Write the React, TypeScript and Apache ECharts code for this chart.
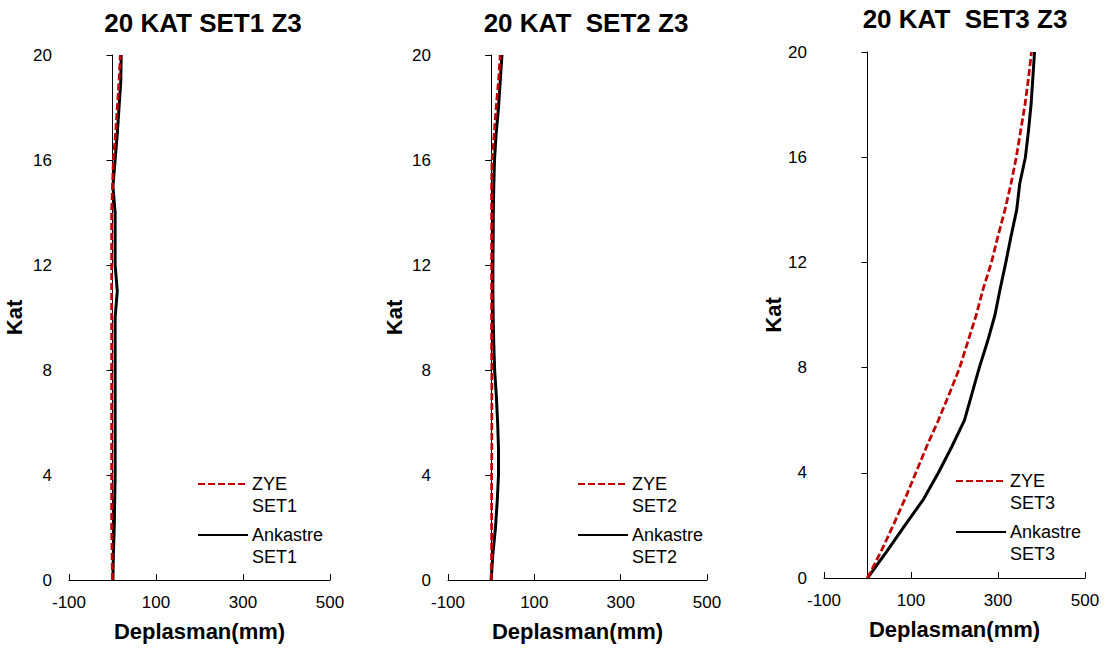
import React, { useEffect, useRef } from "react";
import * as echarts from "echarts";

// Floor numbers (Kat)
const floors = [0, 1, 2, 3, 4, 5, 6, 7, 8, 9, 10, 11, 12, 13, 14, 15, 16, 17, 18, 19, 20];

// Displacements (mm) per floor
const zyeSet1 = [0, -1, -2, -2, -2, -2, -2, -2, -2, -2, -2, -2, -2, -2, -2, 0, 2, 7, 11, 15, 18];
const ankSet1 = [1, 2, 4, 5, 6, 6, 6, 6, 6, 6, 6, 11, 6, 6, 6, 1, 6, 11, 15, 19, 20];

const zyeSet2 = [0, 1, 1, 1, 1, 1.5, 1.5, 1.5, 1.5, 1, 1, 1, 1, 1, 1, 1, 2, 7, 11.5, 17, 21];
const ankSet2 = [0, 4, 10, 14, 17, 17, 15, 12, 8, 6, 4.6, 4, 4, 4.6, 5, 6, 7.7, 11.5, 17, 21, 25];

const zyeSet3 = [0, 31, 59, 86, 111, 136, 163, 188, 212, 231, 250, 266, 285, 300, 316, 330, 342, 352, 362, 370, 377];
const ankSet3 = [0, 44, 86, 129, 163, 194, 223, 240, 257, 276, 293, 305, 318, 330, 343, 350, 363, 370, 376, 380, 384];

const titles = ["20 KAT SET1 Z3", "20 KAT  SET2 Z3", "20 KAT  SET3 Z3"];
const setNames = ["SET1", "SET2", "SET3"];
const xTitle = "Deplasman(mm)";
const yTitle = "Kat";

const FONT = "'Liberation Sans', Arial, sans-serif";
const RED = "#C00000";

// layout (pixels)
const layout = [
  { left: 69, top: 55, width: 261, height: 525, titleX: 203, titleY: 23, legX: 197, leg1: 484, leg2: 535, nameGap: 44 },
  { left: 448, top: 55, width: 259, height: 525, titleX: 586, titleY: 23, legX: 577, leg1: 484, leg2: 535, nameGap: 43 },
  { left: 824, top: 52, width: 261, height: 526, titleX: 965, titleY: 19, legX: 955, leg1: 481, leg2: 532, nameGap: 40 },
];

const dataSets = [
  [zyeSet1, ankSet1],
  [zyeSet2, ankSet2],
  [zyeSet3, ankSet3],
];

export default function App() {
  const ref = useRef<HTMLDivElement>(null);
  useEffect(() => {
    document.body.style.margin = "0";
    if (!ref.current) return;
    const chart = echarts.init(ref.current, undefined, { renderer: "svg" });

    const grid: any[] = [];
    const xAxis: any[] = [];
    const yAxis: any[] = [];
    const series: any[] = [];
    const legend: any[] = [];
    const graphic: any[] = [];

    layout.forEach((L, i) => {
      grid.push({
        left: L.left,
        top: L.top,
        width: L.width,
        height: L.height,
        containLabel: false,
        outerBoundsMode: "none",
      });
      xAxis.push({
        type: "value",
        gridIndex: i,
        min: -100,
        max: 500,
        interval: 200,
        name: xTitle,
        nameLocation: "middle",
        nameGap: 40,
        nameTextStyle: { fontSize: 22, fontWeight: "bold", color: "#000", fontFamily: FONT },
        axisLine: { onZero: false, lineStyle: { color: "#000", width: 1 } },
        axisTick: { show: true, inside: true, length: 6, lineStyle: { color: "#000" } },
        axisLabel: { fontSize: 17, color: "#000", fontFamily: FONT, margin: 14 },
        splitLine: { show: false },
      });
      yAxis.push({
        type: "value",
        gridIndex: i,
        min: 0,
        max: 20,
        interval: 4,
        name: yTitle,
        nameLocation: "middle",
        nameGap: L.nameGap,
        nameTextStyle: { fontSize: 22, fontWeight: "bold", color: "#000", fontFamily: FONT },
        axisLine: { onZero: true, lineStyle: { color: "#000", width: 1 } },
        axisTick: { show: true, inside: false, length: 6, lineStyle: { color: "#000" } },
        axisLabel: { fontSize: 17, color: "#000", fontFamily: FONT, margin: 17 },
        splitLine: { show: false },
      });
      const [zye, ank] = dataSets[i];
      const zName = "ZYE " + setNames[i];
      const aName = "Ankastre " + setNames[i];
      series.push({
        type: "line",
        name: zName,
        xAxisIndex: i,
        yAxisIndex: i,
        data: floors.map((f, k) => [zye[k], f]),
        showSymbol: false,
        symbol: "none",
        lineStyle: { color: RED, width: 2.75, type: [7, 3] },
        itemStyle: { color: RED },
        z: 3,
      });
      series.push({
        type: "line",
        name: aName,
        xAxisIndex: i,
        yAxisIndex: i,
        data: floors.map((f, k) => [ank[k], f]),
        showSymbol: false,
        symbol: "none",
        lineStyle: { color: "#000", width: 3 },
        itemStyle: { color: "#000" },
        z: 2,
      });
      const legBase = {
        left: L.legX,
        padding: 0,
        itemWidth: 50,
        itemHeight: 14,
        itemGap: 0,
        itemStyle: { opacity: 0 },
        formatter: (n: string) => "\n" + n.replace(" ", "\n"),
        textStyle: { fontSize: 18, lineHeight: 22, color: "#000", fontFamily: FONT, padding: [0, 0, 0, -1] },
      };
      legend.push({ ...legBase, top: L.leg1 - 33, data: [zName] });
      legend.push({ ...legBase, top: L.leg2 - 33, data: [aName] });
      graphic.push({
        type: "text",
        x: L.titleX,
        y: L.titleY,
        style: {
          text: titles[i],
          fontSize: 26,
          fontWeight: "bold",
          fontFamily: FONT,
          fill: "#000",
          align: "center",
          verticalAlign: "middle",
        },
      });
    });

    chart.setOption({
      animation: false,
      backgroundColor: "#fff",
      grid,
      xAxis,
      yAxis,
      series,
      legend,
      graphic,
    });
    return () => chart.dispose();
  }, []);
  return <div ref={ref} style={{ width: 1114, height: 650 }} />;
}
